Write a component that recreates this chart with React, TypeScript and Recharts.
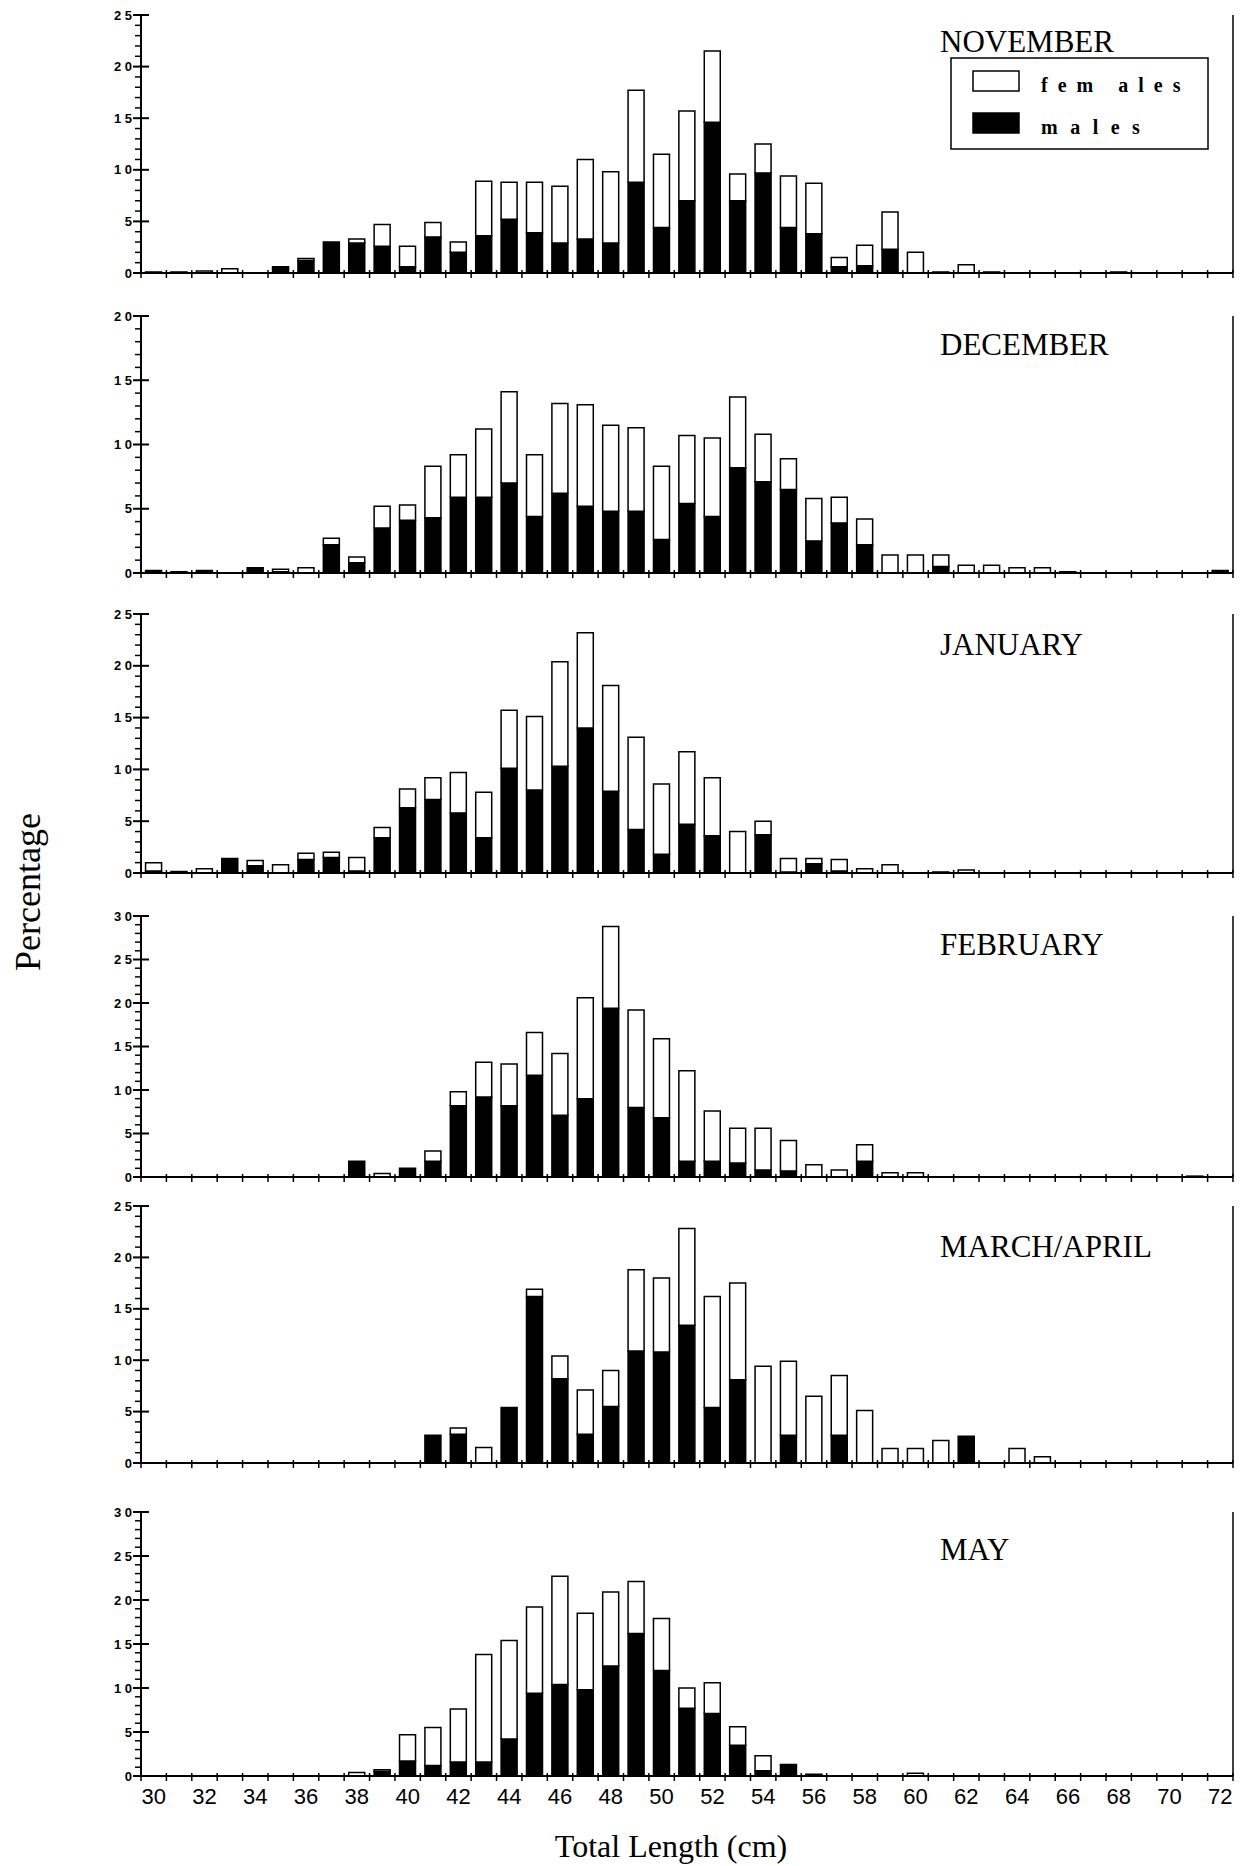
import React from 'react';
import { Bar, BarChart, XAxis, YAxis } from 'recharts';

// total length classes (cm)
const lengths = [
  30, 31, 32, 33, 34, 35, 36, 37, 38, 39, 40, 41, 42, 43, 44, 45, 46, 47, 48, 49, 50,
  51, 52, 53, 54, 55, 56, 57, 58, 59, 60, 61, 62, 63, 64, 65, 66, 67, 68, 69, 70, 71, 72,
];
const evenLabels = [30, 32, 34, 36, 38, 40, 42, 44, 46, 48, 50, 52, 54, 56, 58, 60, 62, 64, 66, 68, 70, 72];

// percentages, one value per length class
const novMales = [
  0, 0, 0, 0, 0, 0.6, 1.2, 3.0, 2.9, 2.6, 0.6, 3.5, 2.0, 3.6, 5.2, 3.9, 2.9, 3.3, 2.9, 8.8, 4.4,
  7.0, 14.6, 7.0, 9.7, 4.4, 3.8, 0.6, 0.7, 2.3, 0, 0, 0, 0, 0, 0, 0, 0, 0, 0, 0, 0, 0,
];
const novFemales = [
  0.1, 0.1, 0.2, 0.4, 0, 0, 0.2, 0, 0.4, 2.1, 2.0, 1.4, 1.0, 5.3, 3.6, 4.9, 5.5, 7.7, 6.9, 8.9, 7.1,
  8.7, 6.9, 2.6, 2.8, 5.0, 4.9, 0.9, 2.0, 3.6, 2.0, 0.1, 0.8, 0.1, 0, 0, 0, 0, 0.1, 0, 0, 0, 0,
];
const decMales = [
  0.2, 0.1, 0.2, 0, 0.4, 0.1, 0, 2.2, 0.8, 3.5, 4.1, 4.3, 5.9, 5.9, 7.0, 4.4, 6.2, 5.2, 4.8, 4.8, 2.6,
  5.4, 4.4, 8.2, 7.1, 6.5, 2.5, 3.9, 2.2, 0, 0, 0.5, 0, 0, 0, 0, 0, 0, 0, 0, 0, 0, 0.2,
];
const decFemales = [
  0, 0, 0, 0, 0, 0.2, 0.4, 0.5, 0.45, 1.7, 1.2, 4.0, 3.3, 5.3, 7.1, 4.8, 7.0, 7.9, 6.7, 6.5, 5.7,
  5.3, 6.1, 5.5, 3.7, 2.4, 3.3, 2.0, 2.0, 1.4, 1.4, 0.9, 0.6, 0.6, 0.4, 0.4, 0.1, 0, 0, 0, 0, 0, 0,
];
const janMales = [
  0.2, 0, 0, 1.4, 0.7, 0, 1.3, 1.5, 0.2, 3.4, 6.3, 7.1, 5.8, 3.4, 10.1, 8.0, 10.3, 14.0, 7.9, 4.2, 1.8,
  4.7, 3.6, 0, 3.7, 0.1, 0.9, 0.2, 0, 0, 0, 0, 0, 0, 0, 0, 0, 0, 0, 0, 0, 0, 0,
];
const janFemales = [
  0.8, 0.15, 0.4, 0, 0.5, 0.8, 0.6, 0.5, 1.3, 1.0, 1.8, 2.1, 3.9, 4.4, 5.6, 7.1, 10.1, 9.2, 10.2, 8.9, 6.8,
  7.0, 5.6, 4.0, 1.3, 1.3, 0.5, 1.1, 0.4, 0.8, 0, 0.1, 0.3, 0, 0, 0, 0, 0, 0, 0, 0, 0, 0,
];
const febMales = [
  0, 0, 0, 0, 0, 0, 0, 0, 1.8, 0, 1.0, 1.8, 8.2, 9.2, 8.2, 11.7, 7.1, 9.0, 19.4, 8.0, 6.8,
  1.8, 1.8, 1.6, 0.8, 0.7, 0, 0, 1.8, 0, 0, 0, 0, 0, 0, 0, 0, 0, 0, 0, 0, 0.1, 0,
];
const febFemales = [
  0, 0, 0, 0, 0, 0, 0, 0, 0, 0.4, 0, 1.2, 1.6, 4.0, 4.8, 4.9, 7.1, 11.6, 9.4, 11.2, 9.1,
  10.4, 5.8, 4.0, 4.8, 3.5, 1.4, 0.8, 1.9, 0.5, 0.5, 0, 0, 0, 0, 0, 0, 0, 0, 0, 0, 0, 0,
];
const marMales = [
  0, 0, 0, 0, 0, 0, 0, 0, 0, 0, 0, 2.7, 2.8, 0, 5.4, 16.2, 8.2, 2.8, 5.5, 10.9, 10.8,
  13.4, 5.4, 8.1, 0, 2.7, 0, 2.7, 0, 0, 0, 0, 2.6, 0, 0, 0, 0, 0, 0, 0, 0, 0, 0,
];
const marFemales = [
  0, 0, 0, 0, 0, 0, 0, 0, 0, 0, 0, 0, 0.6, 1.5, 0, 0.7, 2.2, 4.3, 3.5, 7.9, 7.2,
  9.4, 10.8, 9.4, 9.4, 7.2, 6.5, 5.8, 5.1, 1.4, 1.4, 2.2, 0, 0, 1.4, 0.6, 0, 0, 0, 0, 0, 0, 0,
];
const mayMales = [
  0, 0, 0, 0, 0, 0, 0, 0, 0, 0.5, 1.7, 1.2, 1.6, 1.6, 4.2, 9.4, 10.4, 9.8, 12.5, 16.2, 12.0,
  7.7, 7.1, 3.5, 0.6, 1.3, 0.1, 0, 0, 0, 0, 0, 0, 0, 0, 0, 0, 0, 0, 0, 0, 0, 0,
];
const mayFemales = [
  0, 0, 0, 0, 0, 0, 0, 0, 0.4, 0.2, 3.0, 4.3, 6.0, 12.2, 11.2, 9.8, 12.3, 8.7, 8.4, 5.9, 5.9,
  2.3, 3.5, 2.1, 1.7, 0, 0.1, 0, 0, 0, 0.3, 0, 0, 0, 0, 0, 0, 0, 0, 0, 0, 0, 0,
];

const W = 1255;
const H = 1866;
const AXIS_X = 141;
const RIGHT_M = 20;
const RIGHT_AX = 2;
const PLOT_W = W - AXIS_X - RIGHT_M - RIGHT_AX;
const BAND = PLOT_W / lengths.length;
const MT = 12;

const panels = [
  { title: 'NOVEMBER', males: novMales, females: novFemales, max: 25, top: 15, zero: 273, titleY: 52 },
  { title: 'DECEMBER', males: decMales, females: decFemales, max: 20, top: 316, zero: 573, titleY: 355 },
  { title: 'JANUARY', males: janMales, females: janFemales, max: 25, top: 614, zero: 873, titleY: 655 },
  { title: 'FEBRUARY', males: febMales, females: febFemales, max: 30, top: 916, zero: 1177, titleY: 955 },
  { title: 'MARCH/APRIL', males: marMales, females: marFemales, max: 25, top: 1206, zero: 1463, titleY: 1257 },
  { title: 'MAY', males: mayMales, females: mayFemales, max: 30, top: 1512, zero: 1776, titleY: 1560 },
];

const XTick = (props: any) => {
  const { x, y, payload, index, showLabels } = props;
  const left = x - BAND / 2;
  const isLast = index === lengths.length - 1;
  return (
    <g>
      <line x1={left} x2={left} y1={y - 3} y2={y + 5} stroke="#000" strokeWidth={1.5} />
      {isLast && <line x1={left + BAND} x2={left + BAND} y1={y - 3} y2={y + 5} stroke="#000" strokeWidth={1.5} />}
      {showLabels && evenLabels.includes(payload.value) && (
        <text x={x} y={y + 28} textAnchor="middle" fontFamily="'Liberation Sans', Arial, sans-serif" fontSize={22} fill="#000">
          {payload.value}
        </text>
      )}
    </g>
  );
};

const YTick = (props: any) => {
  const { x, y, payload } = props;
  const v = payload.value as number;
  if (v % 5 !== 0) {
    return <line x1={x - 6} x2={x} y1={y} y2={y} stroke="#000" strokeWidth={1.5} />;
  }
  return (
    <g>
      <line x1={x - 8} x2={x + 8} y1={y} y2={y} stroke="#000" strokeWidth={2} />
      <text x={x - 9} y={y} dy="0.35em" textAnchor="end" fontFamily="'Liberation Sans', Arial, sans-serif"
        fontWeight="bold" fontSize={13} fill="#000">
        {String(v).split('').join(' ')}
      </text>
    </g>
  );
};

const Panel: React.FC<{ p: typeof panels[number]; last: boolean }> = ({ p, last }) => {
  const data = lengths.map((len, i) => ({ len, males: p.males[i], females: p.females[i] }));
  const yTicks = Array.from({ length: p.max + 1 }, (_, i) => i);
  const axisH = last ? 44 : 10;
  const plotH = p.zero - p.top;
  return (
    <div style={{ position: 'absolute', left: 0, top: p.top - MT }}>
      <BarChart
        width={W}
        height={MT + plotH + axisH}
        data={data}
        margin={{ top: MT, right: RIGHT_M, bottom: 0, left: 0 }}
        barCategoryGap="18%"
      >
        <XAxis
          dataKey="len"
          interval={0}
          height={axisH}
          tickSize={0}
          tickMargin={0}
          tickLine={false}
          axisLine={{ stroke: '#000', strokeWidth: 2 }}
          tick={(t: any) => <XTick {...t} showLabels={last} />}
        />
        <XAxis
          xAxisId="top"
          orientation="top"
          dataKey="len"
          height={0}
          tick={false}
          tickLine={false}
          axisLine={{ stroke: '#000', strokeWidth: 2 }}
        />
        <YAxis
          domain={[0, p.max]}
          ticks={yTicks}
          interval={0}
          width={AXIS_X}
          tickSize={0}
          tickMargin={0}
          tickLine={false}
          axisLine={{ stroke: '#000', strokeWidth: 2 }}
          tick={(t: any) => <YTick {...t} />}
        />
        <YAxis
          yAxisId="r"
          orientation="right"
          width={RIGHT_AX}
          domain={[0, p.max]}
          tick={false}
          tickLine={false}
          axisLine={{ stroke: '#000', strokeWidth: 1.5 }}
        />
        <Bar dataKey="males" stackId="s" fill="#000" stroke="#000" strokeWidth={1.5} isAnimationActive={false} />
        <Bar dataKey="females" stackId="s" fill="#fff" stroke="#000" strokeWidth={1.5} isAnimationActive={false} />
      </BarChart>
    </div>
  );
};

const serif = "'Liberation Serif', 'Times New Roman', serif";

export default function App() {
  return (
    <div style={{ position: 'relative', width: W, height: H, background: '#fff' }}>
      <style>{'body{margin:0;background:#fff}'}</style>
      {panels.map((p, i) => (
        <Panel key={p.title} p={p} last={i === panels.length - 1} />
      ))}
      <svg width={W} height={H} style={{ position: 'absolute', left: 0, top: 0, pointerEvents: 'none' }}>
        {panels.map((p) => (
          <text key={p.title} x={940} y={p.titleY} fontFamily={serif} fontSize={31} fill="#000">
            {p.title}
          </text>
        ))}
        {/* legend (November panel) */}
        <rect x={951} y={58} width={257} height={91} fill="#fff" stroke="#000" strokeWidth={1.5} />
        <rect x={973} y={71} width={46} height={20} fill="#fff" stroke="#000" strokeWidth={1.5} />
        <rect x={973} y={113} width={46} height={20} fill="#000" stroke="#000" strokeWidth={1.5} />
        <text x={1041} y={92} fontFamily={serif} fontWeight="bold" fontSize={20} letterSpacing={10} fill="#000">
          fem ales
        </text>
        <text x={1041} y={134} fontFamily={serif} fontWeight="bold" fontSize={20} letterSpacing={12.5} fill="#000">
          males
        </text>
        <text x={40} y={892} transform="rotate(-90 40 892)" textAnchor="middle" fontFamily={serif} fontSize={36} fill="#000">
          Percentage
        </text>
        <text x={671} y={1857} textAnchor="middle" fontFamily={serif} fontSize={32} fill="#000">
          Total Length (cm)
        </text>
      </svg>
    </div>
  );
}
